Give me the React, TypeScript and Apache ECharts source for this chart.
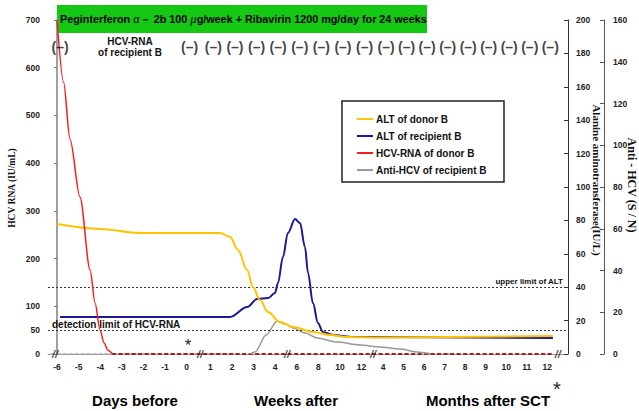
import React, { useEffect, useRef } from 'react';
import * as echarts from 'echarts';

const SANS = '"Liberation Sans", Arial, sans-serif';
const SERIF = '"Liberation Serif", "Times New Roman", serif';

// x axis: broken time axis (days before / weeks after / months after SCT)
const tickLabels = ['-6', '-5', '-4', '-3', '-2', '-1', '0', '1', '2', '3', '4', '6', '8', '10', '12', '4', '5', '6', '7', '8', '9', '10', '11', '12'];
const tickPos = [0, 1, 2, 3, 4, 5, 6, 7.1, 8.1, 9.1, 10.1, 11.1, 12.1, 13.1, 14.1, 15.1, 16.05, 17, 17.95, 18.9, 19.85, 20.8, 21.75, 22.7];
const breakPos = [-0.09, 6.62, 10.65, 14.63, 23.19];

// ALT (IU/L)
const altDonor: number[][] = [
  [0, 77.8], [1.99, 74.9], [3.84, 72.5], [7.55, 72.5], [8.01, 70.1], [8.38, 62.3], [8.8, 50.3],
  [9.07, 40.1], [9.4, 32.3], [9.77, 25.1], [10.32, 19.2], [10.93, 16.2], [11.85, 13.2],
  [12.64, 11.4], [13.43, 10.2], [14.95, 9.9], [22.96, 10.8],
];
const altRecipient: number[][] = [
  [0.14, 22.2], [8.01, 22.2], [8.8, 28.1], [9.26, 32.9], [9.77, 33.5], [10.09, 36.5], [10.23, 42.5],
  [10.46, 58.1], [10.69, 72.5], [11.02, 80.8], [11.25, 78.4], [11.48, 64.1], [11.62, 48.5],
  [11.85, 30.5], [12.08, 18.6], [12.31, 13.2], [12.78, 11.4], [13.7, 10.2], [22.96, 9.6],
];
// HCV RNA (IU/mL)
const hcvRnaDonor: number[][] = [
  [0, 700], [0.3, 570], [0.6, 450], [1.06, 329], [1.53, 176], [1.76, 107], [1.99, 50],
  [2.18, 23], [2.35, 8], [2.55, 1],
];
const hcvRnaNegative: number[][] = [[2.55, 0], [22.96, 0]];
// Anti-HCV (S/N)
const antiHcvRecipient: number[][] = [
  [8.94, 0], [9.17, 1], [9.68, 9.1], [10.19, 15.8], [10.56, 14.4], [10.93, 12.5], [11.48, 10.1],
  [12.04, 7.7], [12.96, 5.7], [14.03, 4.3], [14.95, 3.4], [15.88, 2.4], [16.67, 1], [17.27, 0.2],
];
const antiHcvZeroBefore: number[][] = [[-0.3, 0], [8.94, 0]];
const antiHcvZeroAfter: number[][] = [[17.27, 0], [18.2, 0]];

// HCV-RNA of recipient B test results (at tick indices)
const rnaTestIdx = [0, 6, 7, 8, 9, 10, 11, 12, 13, 14, 15, 16, 17, 18, 19, 20, 21, 22, 23];
const rnaTestResult = '(–)';
const rnaMarkerLevel = 643;

const altUpperLimit = 40;
const rnaDetectionLimit = 50;

const leftTicks = [0, 50, 100, 200, 300, 400, 500, 600, 700];
const legendNames = ['ALT of donor B', 'ALT of recipient B', 'HCV-RNA of donor B', 'Anti-HCV of recipient B'];

export default function App() {
  const ref = useRef<HTMLDivElement>(null);
  useEffect(() => {
    if (!ref.current) return;
    const chart = echarts.init(ref.current, null, { renderer: 'svg' });
    const tickText = { fontFamily: SANS, fontSize: 8.5, fontWeight: 'bold' as const, color: '#222' };
    const option: any = {
      animation: false,
      backgroundColor: '#fff',
      grid: { left: 48, right: 71, top: 20, bottom: 57, containLabel: false, outerBoundsMode: 'none' },
      legend: {
        data: legendNames.map((n) => ({ name: n, icon: 'rect' })),
        orient: 'vertical',
        left: 357,
        top: 113,
        itemWidth: 16,
        itemHeight: 2,
        itemGap: 5,
        padding: 0,
        textStyle: { fontFamily: SANS, fontSize: 10, fontWeight: 'bold', color: '#111', lineHeight: 12, padding: [0, 0, 0, -2] },
        selectedMode: false,
      },
      xAxis: {
        type: 'value',
        min: -0.42,
        max: 23.66,
        axisLine: { show: true, onZero: false, lineStyle: { color: '#999', width: 1 } },
        axisTick: { show: false },
        splitLine: { show: false },
        axisLabel: {
          ...tickText,
          margin: 8,
          customValues: tickPos,
          formatter: (v: number) => {
            const k = tickPos.findIndex((p) => Math.abs(p - v) < 1e-6);
            return k >= 0 ? tickLabels[k] : '';
          },
        },
      },
      yAxis: [
        {
          type: 'value', min: 0, max: 700, interval: 100, position: 'left',
          axisLine: { show: true, lineStyle: { color: '#a0a0a0', width: 2 } },
          axisTick: { show: true, length: 3, lineStyle: { color: '#777' } },
          axisLabel: { ...tickText, margin: 8, customValues: leftTicks },
          splitLine: { show: false },
        },
        {
          type: 'value', min: 0, max: 200, interval: 20, position: 'right',
          axisLine: { show: true, lineStyle: { color: '#333', width: 1 } },
          axisTick: { show: true, inside: true, length: 4, lineStyle: { color: '#333' } },
          axisLabel: { ...tickText, margin: 8 },
          splitLine: { show: false },
        },
        {
          type: 'value', min: 0, max: 160, interval: 20, position: 'right', offset: 36,
          axisLine: { show: true, lineStyle: { color: '#555', width: 1 } },
          axisTick: { show: true, inside: true, length: 4, lineStyle: { color: '#555' } },
          axisLabel: { ...tickText, margin: 9 },
          splitLine: { show: false },
        },
      ],
      series: [
        {
          name: 'Anti-HCV zero', type: 'line', yAxisIndex: 2, data: antiHcvZeroBefore, symbol: 'none',
          lineStyle: { color: '#aaa', width: 1.5, type: [4, 2] }, z: 2, silent: true,
        },
        {
          name: 'Anti-HCV zero 2', type: 'line', yAxisIndex: 2, data: antiHcvZeroAfter, symbol: 'none',
          lineStyle: { color: '#aaa', width: 1.5, type: [4, 2] }, z: 2, silent: true,
        },
        {
          name: 'HCV-RNA negative', type: 'line', yAxisIndex: 0, data: hcvRnaNegative, symbol: 'none',
          lineStyle: { color: '#a81c1c', width: 2, type: [4, 2.5] }, z: 3, silent: true,
        },
        {
          name: 'Anti-HCV of recipient B', type: 'line', yAxisIndex: 2, data: antiHcvRecipient, symbol: 'none',
          smooth: 0.3, smoothMonotone: 'x', color: '#999', lineStyle: { color: '#999', width: 1.5 }, z: 4,
        },
        {
          name: 'ALT of donor B', type: 'line', yAxisIndex: 1, data: altDonor, symbol: 'none',
          smooth: 0.35, smoothMonotone: 'x', color: '#ffc400', lineStyle: { color: '#ffc400', width: 2 }, z: 6,
          markLine: {
            silent: true, symbol: 'none',
            lineStyle: { color: '#333', width: 1, type: [2, 2] },
            label: {
              show: true, position: 'insideEndTop', distance: [5, 2], formatter: 'upper limit of ALT',
              fontFamily: SANS, fontSize: 8, fontWeight: 'bold', color: '#111',
            },
            data: [{ yAxis: altUpperLimit }],
          },
        },
        {
          name: 'ALT of recipient B', type: 'line', yAxisIndex: 1, data: altRecipient, symbol: 'none',
          smooth: 0.35, smoothMonotone: 'x', color: '#1a1a96', lineStyle: { color: '#1a1a96', width: 2 }, z: 5,
        },
        {
          name: 'HCV-RNA of donor B', type: 'line', yAxisIndex: 0, data: hcvRnaDonor, symbol: 'none',
          smooth: 0.3, smoothMonotone: 'x', color: '#ff1a1a', lineStyle: { color: '#ff1a1a', width: 1.5 }, z: 7,
          markLine: {
            silent: true, symbol: 'none',
            lineStyle: { color: '#333', width: 1, type: [2, 2] },
            label: {
              show: true, position: 'insideStartTop', distance: [4, 1], formatter: 'detection limit of HCV-RNA',
              fontFamily: SANS, fontSize: 10, fontWeight: 'bold', color: '#111',
            },
            data: [{ yAxis: rnaDetectionLimit }],
          },
        },
        {
          name: 'RNA tests', type: 'scatter', yAxisIndex: 0, symbolSize: 1, silent: true,
          itemStyle: { color: 'transparent' },
          data: rnaTestIdx.map((i) => [tickPos[i], rnaMarkerLevel]),
          label: {
            show: true, position: 'inside', offset: [3, 0], formatter: rnaTestResult,
            fontFamily: SANS, fontSize: 14, fontWeight: 'bold', color: '#111',
          },
          z: 8,
        },
        {
          name: 'breaks', type: 'scatter', yAxisIndex: 0, symbolSize: 1, silent: true,
          itemStyle: { color: 'transparent' },
          data: breakPos.map((p) => [p, 0]),
          label: {
            show: true, position: 'inside', formatter: '//',
            fontFamily: SANS, fontSize: 11, fontWeight: 'bold', fontStyle: 'italic', color: '#222',
          },
          z: 9,
        },
      ],
      graphic: [
        {
          type: 'rect', z: -1, shape: { x: 342, y: 101, width: 162, height: 81 },
          style: { fill: '#fff', stroke: '#222', lineWidth: 1.5 },
        },
        {
          type: 'rect', shape: { x: 57, y: 5, width: 370, height: 28 },
          style: { fill: '#14c814' },
        },
        {
          type: 'text', x: 60, y: 19,
          style: {
            text: '{t|Peginterferon }{g|α}{t|－ 2b 100 }{g|μ}{t|g/week + Ribavirin 1200 mg/day for 24 weeks}',
            verticalAlign: 'middle',
            rich: {
              t: { fontFamily: SANS, fontSize: 10.8, fontWeight: 'bold', fill: '#000' },
              g: { fontFamily: SERIF, fontSize: 12.5, fontStyle: 'italic', fill: '#000' },
            },
          },
        },
        {
          type: 'text', x: 130, y: 47,
          style: {
            text: 'HCV-RNA\nof recipient B', align: 'center', verticalAlign: 'middle', lineHeight: 11,
            fontFamily: SANS, fontSize: 10, fontWeight: 'bold', fill: '#111',
          },
        },
        {
          type: 'text', x: 12, y: 188, rotation: Math.PI / 2,
          style: { text: 'HCV RNA (IU/mL)', align: 'center', verticalAlign: 'middle', fontFamily: SERIF, fontSize: 9.5, fontWeight: 'bold', fill: '#111' },
        },
        {
          type: 'text', x: 597, y: 180, rotation: -Math.PI / 2,
          style: { text: 'Alanine aminotransferase(IU/L)', align: 'center', verticalAlign: 'middle', fontFamily: SERIF, fontSize: 11, fontWeight: 'bold', fill: '#111' },
        },
        {
          type: 'text', x: 632, y: 185, rotation: -Math.PI / 2,
          style: { text: 'Anti - HCV (S / N)', align: 'center', verticalAlign: 'middle', fontFamily: SERIF, fontSize: 12, fontWeight: 'bold', fill: '#111' },
        },
        {
          type: 'text', x: 188, y: 345,
          style: { text: '*', align: 'center', verticalAlign: 'middle', fontFamily: SANS, fontSize: 17, fill: '#222' },
        },
        {
          type: 'text', x: 135, y: 400,
          style: { text: 'Days before', align: 'center', verticalAlign: 'middle', fontFamily: SANS, fontSize: 15, fontWeight: 'bold', fill: '#000' },
        },
        {
          type: 'text', x: 296, y: 400,
          style: { text: 'Weeks after', align: 'center', verticalAlign: 'middle', fontFamily: SANS, fontSize: 15, fontWeight: 'bold', fill: '#000' },
        },
        {
          type: 'text', x: 488, y: 400,
          style: { text: 'Months after SCT', align: 'center', verticalAlign: 'middle', fontFamily: SANS, fontSize: 15, fontWeight: 'bold', fill: '#000' },
        },
        {
          type: 'text', x: 557, y: 389,
          style: { text: '*', align: 'center', verticalAlign: 'middle', fontFamily: SANS, fontSize: 20, fill: '#222' },
        },
      ],
    };
    chart.setOption(option);
    return () => chart.dispose();
  }, []);
  return <div ref={ref} style={{ position: 'absolute', left: 0, top: 0, width: 639, height: 411 }} />;
}
